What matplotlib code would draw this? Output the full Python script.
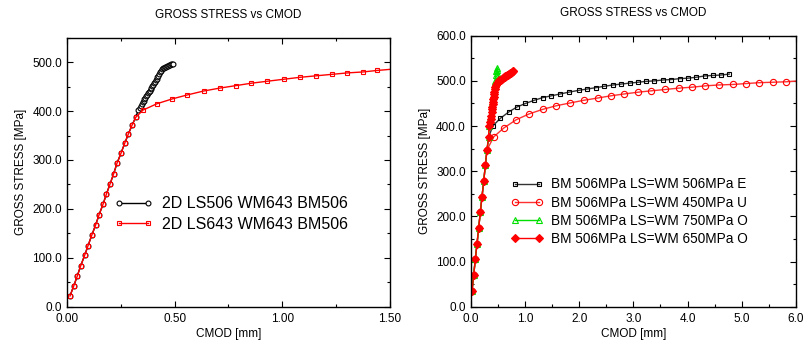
import matplotlib
matplotlib.use("Agg")
import matplotlib.pyplot as plt
from matplotlib.ticker import MultipleLocator, FormatStrFormatter

plt.rcParams['font.family'] = ['Liberation Sans', 'DejaVu Sans']

# ---------------- data: left panel ----------------
left_title = "GROSS STRESS vs CMOD"
x_label = "CMOD [mm]"
y_label = "GROSS STRESS [MPa]"

ls506_label = "2D LS506 WM643 BM506"
ls506_x = [0.014, 0.031, 0.048, 0.064, 0.082, 0.098, 0.115, 0.133, 0.149, 0.167,
           0.183, 0.200, 0.217, 0.232, 0.251, 0.268, 0.285, 0.302, 0.319, 0.332,
           0.338, 0.343, 0.348, 0.352, 0.356, 0.360, 0.364, 0.368, 0.372, 0.376,
           0.380, 0.384, 0.388, 0.392, 0.396, 0.400, 0.404, 0.408, 0.412, 0.416,
           0.420, 0.424, 0.428, 0.432, 0.436, 0.440, 0.445, 0.450, 0.455, 0.460,
           0.465, 0.470, 0.475, 0.480, 0.485, 0.490, 0.494]
ls506_y = [22, 42, 63, 84, 105, 125, 146, 167, 188, 209,
           230, 251, 272, 293, 314, 334, 353, 371, 387, 403,
           407, 411, 415, 418, 421, 424, 427, 430, 433, 436,
           439, 442, 445, 448, 451, 454, 457, 460, 463, 466,
           469, 472, 476, 479, 482, 486, 488, 489, 490, 491,
           492, 493, 494, 495, 496, 496, 497]

ls643_label = "2D LS643 WM643 BM506"
ls643_x = [0.014, 0.031, 0.048, 0.064, 0.082, 0.098, 0.115, 0.133, 0.149, 0.167,
           0.183, 0.200, 0.217, 0.232, 0.251, 0.268, 0.285, 0.302, 0.319, 0.353,
           0.418, 0.490, 0.559, 0.635, 0.710, 0.784, 0.857, 0.931, 1.006, 1.082,
           1.155, 1.229, 1.302, 1.376, 1.440, 1.520]
ls643_y = [22, 42, 63, 84, 105, 125, 146, 167, 188, 209,
           230, 251, 272, 293, 314, 334, 353, 371, 387, 402,
           415, 425, 433, 441, 447, 452, 457, 461, 465, 469,
           472, 475, 478, 480, 483, 486]

# ---------------- data: right panel ----------------
right_title = "GROSS STRESS vs CMOD"

e506_label = "BM 506MPa LS=WM 506MPa E"
e506_x = [0.024, 0.055, 0.085, 0.116, 0.147, 0.177, 0.208, 0.240, 0.270, 0.300,
          0.330, 0.406, 0.546, 0.700, 0.850, 1.010, 1.170, 1.330, 1.490, 1.650,
          1.810, 1.990, 2.150, 2.310, 2.460, 2.630, 2.780, 2.930, 3.090, 3.240,
          3.390, 3.550, 3.700, 3.860, 4.010, 4.160, 4.320, 4.470, 4.620, 4.770]
e506_y = [35, 70, 105, 139, 174, 209, 243, 278, 313, 347,
          375, 400, 417, 431, 442, 450, 457, 463, 467, 471,
          475, 479, 482, 485, 488, 491, 493, 495, 497, 499,
          500, 502, 503, 505, 506, 508, 511, 512, 513, 515]

u450_label = "BM 506MPa LS=WM 450MPa U"
u450_x = [0.024, 0.055, 0.085, 0.116, 0.147, 0.177, 0.208, 0.240, 0.270, 0.300,
          0.424, 0.614, 0.840, 1.080, 1.330, 1.580, 1.830, 2.085, 2.340, 2.590,
          2.830, 3.090, 3.330, 3.590, 3.840, 4.080, 4.330, 4.580, 4.830, 5.070,
          5.320, 5.580, 5.820, 6.050]
u450_y = [35, 70, 105, 139, 174, 209, 243, 278, 313, 347,
          376, 396, 414, 427, 437, 445, 451, 457, 462, 467,
          471, 475, 478, 481, 484, 486, 489, 491, 492, 494,
          496, 497, 498, 500]

o750_label = "BM 506MPa LS=WM 750MPa O"
o750_x = [0.024, 0.055, 0.085, 0.116, 0.147, 0.177, 0.208, 0.240, 0.270, 0.300,
          0.330, 0.345, 0.365, 0.385, 0.400, 0.415, 0.428, 0.440, 0.452, 0.463,
          0.472, 0.480, 0.490, 0.505, 0.510]
o750_y = [35, 70, 105, 139, 174, 209, 243, 278, 313, 347,
          375, 400, 418, 436, 450, 464, 476, 488, 500, 512,
          521, 528, 523, 514, 505]

o650_label = "BM 506MPa LS=WM 650MPa O"
o650_x = [0.024, 0.055, 0.085, 0.116, 0.147, 0.177, 0.208, 0.240, 0.270, 0.300,
          0.330, 0.338, 0.354, 0.369, 0.378, 0.387, 0.394, 0.400, 0.405, 0.410,
          0.417, 0.424, 0.430, 0.436, 0.445, 0.454, 0.470, 0.485, 0.498, 0.515,
          0.530, 0.550, 0.570, 0.590, 0.610, 0.625, 0.640, 0.655, 0.670, 0.685,
          0.700, 0.715, 0.730, 0.745, 0.760, 0.775, 0.786]
o650_y = [35, 70, 105, 139, 174, 209, 243, 278, 313, 347,
          375, 400, 408, 416, 423, 430, 437, 443, 449, 454,
          460, 465, 471, 476, 482, 487, 491, 495, 498, 500,
          502, 503, 504, 506, 508, 509, 510, 511, 512, 514,
          515, 516, 517, 518, 520, 521, 522]

# ---------------- figure ----------------
fig = plt.figure(figsize=(8.06, 3.43), dpi=100)
axL = fig.add_axes([0.0831, 0.1058, 0.4007, 0.7843])
axR = fig.add_axes([0.5840, 0.1058, 0.4036, 0.7901])

def style(ax, xmaj, xmin, xfmt, ymaj, ymin):
    ax.xaxis.set_major_locator(MultipleLocator(xmaj))
    ax.xaxis.set_minor_locator(MultipleLocator(xmin))
    ax.yaxis.set_major_locator(MultipleLocator(ymaj))
    ax.yaxis.set_minor_locator(MultipleLocator(ymin))
    ax.xaxis.set_major_formatter(FormatStrFormatter(xfmt))
    ax.yaxis.set_major_formatter(FormatStrFormatter('%.1f'))
    ax.tick_params(which='both', direction='in', top=True, right=True,
                   labelsize=8.5, colors='black', width=0.8)
    ax.tick_params(which='major', length=4.5)
    ax.tick_params(which='minor', length=2.5)
    ax.tick_params(axis='x', which='major', pad=4.5)
    ax.tick_params(axis='y', which='major', pad=3.5)
    for s in ax.spines.values():
        s.set_linewidth(1.0)
    ax.set_xlabel(x_label, fontsize=8.5, labelpad=2)
    ax.set_ylabel(y_label, fontsize=8.5, labelpad=4)

# left
axL.plot(ls506_x, ls506_y, color='black', lw=1.0, marker='o', ms=3.5,
         mfc='white', mec='black', mew=0.8, label=ls506_label)
axL.plot(ls643_x, ls643_y, color='red', lw=1.0, marker='s', ms=3.3,
         mfc='none', mec='red', mew=0.8, label=ls643_label)
axL.set_xlim(0, 1.5)
axL.set_ylim(0, 550)
style(axL, 0.5, 0.25, '%.2f', 100, 50)
axL.set_title(left_title, fontsize=8.5, pad=14)
axL.legend(loc='center left', bbox_to_anchor=(0.1455, 0.3446), frameon=False,
           fontsize=11.5, handlelength=2.45, handletextpad=0.55, labelspacing=0.32,
           borderpad=0, borderaxespad=0, numpoints=2)

# right
axR.plot(e506_x, e506_y, color='#333333', lw=1.0, marker='s', ms=3.5,
         mfc='none', mec='black', mew=0.8, label=e506_label)
axR.plot(u450_x, u450_y, color='#ff3030', lw=1.0, marker='o', ms=4.5,
         mfc='none', mec='red', mew=0.8, label=u450_label)
axR.plot(o750_x, o750_y, color='#00e000', lw=1.0, marker='^', ms=4,
         mfc='none', mec='#00e000', mew=0.8, label=o750_label)
axR.plot(o650_x, o650_y, color='red', lw=1.0, marker='D', ms=3.6,
         mfc='red', mec='red', mew=0.8, label=o650_label)
axR.set_xlim(0, 6.0)
axR.set_ylim(0, 600)
style(axR, 1.0, 0.5, '%.1f', 100, 50)
axR.set_title(right_title, fontsize=8.5, pad=14)
axR.legend(loc='center left', bbox_to_anchor=(0.124, 0.351), frameon=False,
           fontsize=9.8, handlelength=2.35, handletextpad=0.6, labelspacing=0.3,
           borderpad=0, borderaxespad=0, numpoints=2)

fig.savefig("out.png", dpi=100)
